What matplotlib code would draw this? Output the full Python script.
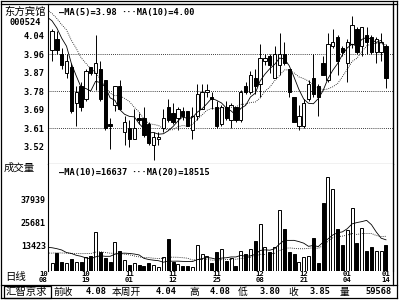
import numpy as np
import pandas as pd
import matplotlib
matplotlib.use("Agg")
import matplotlib.pyplot as plt
import matplotlib.transforms as mtransforms
from matplotlib.lines import Line2D
from matplotlib.patches import Rectangle

# daily bars, 10/08 .. 01/14
opens = [3.98, 4.03, 3.96, 3.87, 3.90, 3.73, 3.81, 3.75, 3.90, 3.87,
         3.89, 3.84, 3.63, 3.72, 3.81, 3.59, 3.61, 3.56, 3.66, 3.66,
         3.63, 3.53, 3.56, 3.61, 3.71, 3.68, 3.66, 3.69, 3.69, 3.60,
         3.67, 3.70, 3.78, 3.76, 3.71, 3.63, 3.71, 3.65, 3.71, 3.65,
         3.81, 3.78, 3.85, 3.82, 3.93, 3.95, 3.85, 3.91, 3.96, 3.89,
         3.76, 3.62, 3.62, 3.75, 3.85, 3.81, 3.92, 3.84, 4.00, 4.04,
         3.99, 3.92, 4.01, 4.08, 4.00, 4.05, 4.04, 3.97, 3.97, 4.00]
highs = [4.08, 4.07, 3.99, 3.96, 3.92, 3.81, 3.83, 3.89, 3.90, 4.05,
         3.93, 3.84, 3.66, 3.81, 3.84, 3.67, 3.65, 3.70, 3.68, 3.71,
         3.64, 3.59, 3.59, 3.70, 3.75, 3.73, 3.71, 3.71, 3.69, 3.71,
         3.82, 3.82, 3.82, 3.78, 3.74, 3.72, 3.74, 3.73, 3.71, 3.79,
         3.83, 3.88, 3.89, 4.01, 3.96, 3.96, 4.00, 4.06, 4.02, 3.89,
         3.76, 3.72, 3.75, 3.84, 3.96, 3.82, 3.95, 4.06, 4.08, 4.05,
         4.00, 4.03, 4.14, 4.09, 4.09, 4.09, 4.05, 4.04, 4.06, 4.01]
lows = [3.93, 3.96, 3.89, 3.85, 3.68, 3.62, 3.69, 3.74, 3.86, 3.79,
        3.74, 3.60, 3.51, 3.69, 3.70, 3.53, 3.52, 3.56, 3.63, 3.57,
        3.53, 3.46, 3.53, 3.59, 3.64, 3.63, 3.60, 3.65, 3.62, 3.56,
        3.65, 3.70, 3.76, 3.70, 3.61, 3.62, 3.65, 3.61, 3.64, 3.64,
        3.77, 3.77, 3.77, 3.76, 3.91, 3.87, 3.85, 3.86, 3.91, 3.76,
        3.64, 3.60, 3.61, 3.74, 3.76, 3.67, 3.86, 3.83, 3.99, 3.86,
        3.95, 3.83, 3.99, 3.96, 3.95, 3.96, 3.96, 3.92, 3.93, 3.80]
closes = [4.07, 3.98, 3.91, 3.93, 3.69, 3.78, 3.71, 3.88, 3.87, 3.92,
          3.75, 3.61, 3.62, 3.81, 3.70, 3.64, 3.56, 3.61, 3.65, 3.58,
          3.54, 3.57, 3.57, 3.66, 3.65, 3.64, 3.70, 3.67, 3.62, 3.67,
          3.77, 3.78, 3.79, 3.75, 3.62, 3.71, 3.66, 3.72, 3.65, 3.78,
          3.78, 3.86, 3.81, 3.94, 3.94, 3.91, 3.96, 3.96, 3.92, 3.78,
          3.64, 3.67, 3.73, 3.82, 3.77, 3.76, 3.86, 4.01, 4.02, 3.93,
          3.97, 4.02, 4.10, 3.97, 4.09, 4.02, 3.97, 4.03, 4.02, 3.85]
volumes = [4500, 9900, 5100, 4200, 6300, 4900, 4900, 7400, 8100, 21100,
           10400, 6900, 5100, 15400, 10900, 6000, 3300, 4200, 3300, 2900,
           4200, 3300, 2400, 7400, 17000, 5100, 3800, 2900, 2900, 2400,
           14100, 9200, 8100, 4200, 10200, 12000, 5600, 7200, 2900, 10800,
           9000, 11700, 16100, 25200, 13100, 10400, 13100, 32600, 22500, 10400,
           9200, 5100, 7700, 8300, 17900, 4200, 36200, 50100, 43700, 22300,
           14000, 22000, 33500, 15200, 22900, 10900, 13100, 10900, 10900, 13800]
# bars before the window, only used to start the moving averages
prev_close = [4.24, 4.22, 4.20, 4.18, 4.18, 4.16, 4.15, 4.15, 4.12, 4.10]
prev_vol = [6200, 6000, 7500, 5800, 8200, 6500, 7000, 6200, 7600, 6000,
            6600, 15000, 12000, 18000, 11000, 14500, 10500, 16000, 12500, 11000]

date_idx = [0, 7, 16, 25, 34, 43, 52, 61, 69]
date_month = ["10", "10", "11", "11", "11", "12", "12", "01", "01"]
date_day = ["08", "19", "01", "12", "25", "08", "21", "04", "14"]
price_ticks = [3.5225, 3.61, 3.6975, 3.785, 3.8725, 3.96, 4.0475]
price_labels = ["3.52", "3.61", "3.69", "3.78", "3.87", "3.96", "4.04"]
price_grid = [3.61, 3.785, 3.96]
vol_ticks = [13423, 25681, 37939]

mono = "DejaVu Sans Mono"
cjk = ["Noto Sans CJK SC", "DejaVu Sans"]
plt.rcParams["font.family"] = cjk

W, H = 400, 300
fig = plt.figure(figsize=(4, 3), dpi=100)
fig.patch.set_facecolor("white")


def fx(px):
    return px / W


def fy(py):
    return 1 - py / H


ax = fig.add_axes([fx(48), fy(164), fx(393 - 48), (164 - 3.5) / H])
axv = fig.add_axes([fx(48), fy(271.2), fx(393 - 48), (271.2 - 164) / H])

n = len(closes)
x = np.arange(n)
o = np.array(opens)
c = np.array(closes)
up = c >= o
face = np.where(up, "white", "black")

# candles
ax.vlines(x, lows, highs, color="black", lw=0.7, zorder=2)
ax.bar(x, np.maximum(np.abs(c - o), 0.002), bottom=np.minimum(o, c), width=0.68,
       color=face, edgecolor="black", lw=0.7, zorder=3)

# moving averages
allc = pd.Series(prev_close + closes)
xa = np.arange(-len(prev_close), n)
ma5 = allc.rolling(5).mean()
ma10 = allc.rolling(10).mean()
ax.plot(xa, ma5, color="black", lw=0.6, zorder=4)
ax.plot(xa, ma10, color="black", lw=0.6, ls=(0, (1, 1.5)), zorder=4)

for g in price_grid:
    ax.axhline(g, color="black", lw=0.6, ls=(0, (1, 1.5)), zorder=1)

ax.set_xlim(-0.83, 70.45)
ax.set_ylim(3.441, 4.200)
ax.set_xticks([])
ax.set_yticks(price_ticks, price_labels)
ax.tick_params(axis="y", length=0, pad=2.2)
for t in ax.get_yticklabels():
    t.set_fontfamily(mono)
    t.set_fontweight("bold")
    t.set_fontsize(6.2)
for s in ax.spines.values():
    s.set_linewidth(0.8)

# volume
axv.bar(x, volumes, width=0.62, color=face, edgecolor="black", lw=0.7, zorder=3)
allv = pd.Series(prev_vol + volumes)
xv = np.arange(-len(prev_vol), n)
axv.plot(xv, allv.rolling(10).mean(), color="black", lw=0.6, zorder=4)
axv.plot(xv, allv.rolling(20).mean(), color="black", lw=0.6, ls=(0, (1, 1.5)), zorder=4)
axv.set_xlim(-0.83, 70.45)
axv.set_ylim(0, 57100)
axv.set_xticks([])
axv.set_yticks(vol_ticks, [str(v) for v in vol_ticks])
axv.tick_params(axis="y", length=0, pad=1.5)
for t in axv.get_yticklabels():
    t.set_fontfamily(mono)
    t.set_fontweight("bold")
    t.set_fontsize(6)
axv.spines["top"].set_visible(False)
axv.spines["bottom"].set_visible(False)
for s in axv.spines.values():
    s.set_linewidth(0.8)

# date labels: month over day
trans = mtransforms.blended_transform_factory(axv.transData, fig.transFigure)
dl = dict(transform=trans, fontfamily=mono, fontweight="bold", fontsize=5.2, va="center")
for k, i in enumerate(date_idx):
    xi = -0.9 if k == 0 else i
    ha = "right" if k == 0 else "center"
    axv.text(xi, fy(274), date_month[k], ha=ha, **dl)
    axv.text(xi, fy(280), date_day[k], ha=ha, **dl)

# legends
lg = dict(fontfamily=mono, fontweight="bold", fontsize=6.2, va="center")
fig.text(fx(59), fy(13), "\u2014MA(5)=3.98", **lg)
fig.text(fx(121), fy(13), "\u00b7\u00b7\u00b7MA(10)=4.00", **lg)
fig.text(fx(59), fy(172), "\u2014MA(10)=16637", **lg)
fig.text(fx(131), fy(172), "\u00b7\u00b7\u00b7MA(20)=18515", **lg)

# left captions
fig.text(fx(4), fy(12), "东方宾馆", fontsize=7.5, va="center", ha="left")
fig.text(fx(9), fy(22.5), "000524", fontfamily=mono, fontweight="bold",
         fontsize=6.2, va="center", ha="left")
fig.text(fx(4), fy(168), "成交量", fontsize=7.5, va="center", ha="left")
fig.text(fx(5), fy(277), "日线", fontsize=7.5, va="center", ha="left")

# status bar
cj = dict(fontsize=7, va="center", ha="left")
nm = dict(fontfamily=mono, fontweight="bold", fontsize=6.2, va="center", ha="right")
ys = fy(291.5)
fig.text(fx(6), ys, "汇智京求", fontsize=7.5, va="center", ha="left")
fig.text(fx(53), ys, "前收", **cj)
fig.text(fx(107), ys, "4.08", **nm)
fig.text(fx(112), ys, "本周开", **cj)
fig.text(fx(177), ys, "4.04", **nm)
fig.text(fx(189), ys, "高", **cj)
fig.text(fx(231), ys, "4.08", **nm)
fig.text(fx(238), ys, "低", **cj)
fig.text(fx(281), ys, "3.80", **nm)
fig.text(fx(288), ys, "收", **cj)
fig.text(fx(330), ys, "3.85", **nm)
fig.text(fx(340), ys, "量", **cj)
fig.text(fx(392), ys, "59568", **nm)

# frame lines


def hline(py, x0, x1, lw=0.9):
    fig.add_artist(Line2D([fx(x0), fx(x1)], [fy(py), fy(py)], color="black", lw=lw))


def vline(px, y0, y1, lw=0.9):
    fig.add_artist(Line2D([fx(px), fx(px)], [fy(y0), fy(y1)], color="black", lw=lw))


hline(1, 1, 397)
hline(3.5, 1, 397)
hline(298, 1, 397)
hline(285, 1, 397)
vline(1, 1, 298)
vline(397, 1, 298)
vline(393, 1, 285)
fig.add_artist(Rectangle((fx(4), fy(297.5)), fx(47), 12 / H, transform=fig.transFigure,
                         fill=False, edgecolor="black", lw=0.9))

fig.savefig("out.png", dpi=100, facecolor="white")
